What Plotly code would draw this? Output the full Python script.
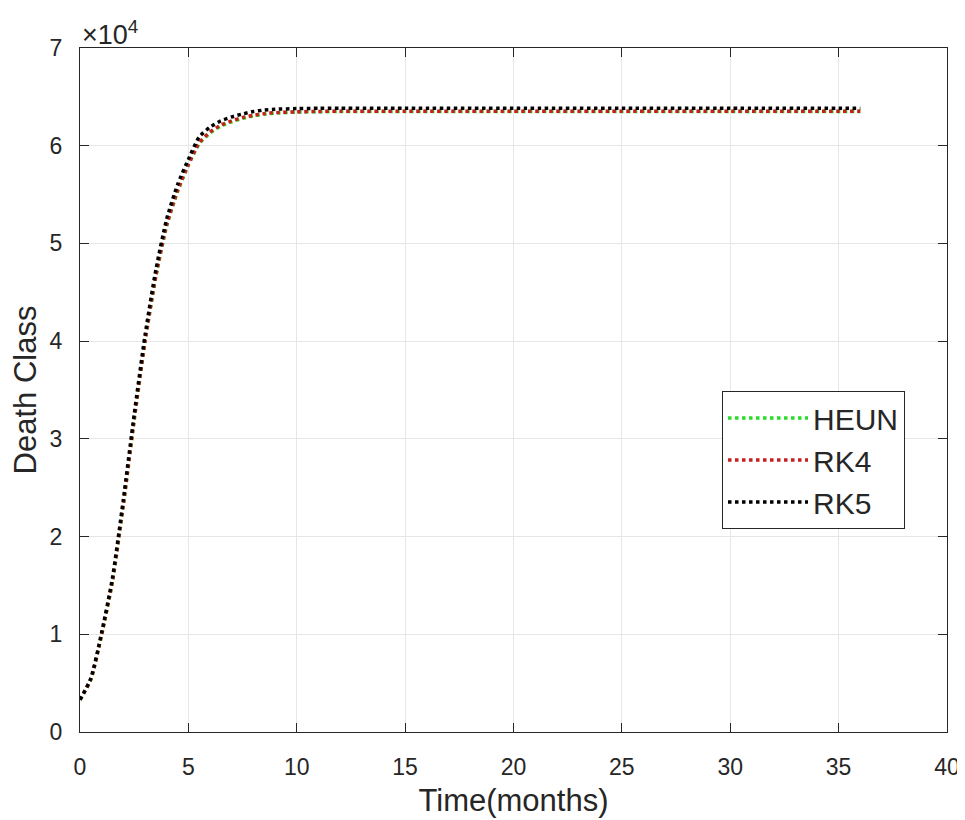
import plotly.graph_objects as go

# Time (months)
t = [0, 0.5, 1, 1.5, 2, 2.5, 3, 3.5, 4, 4.5, 5, 5.5, 6, 6.5, 7, 7.5, 8, 8.5, 9, 10, 11, 12, 15, 20, 25, 30, 36]

heun = [3300, 5350, 9950, 15400, 23200, 31900, 39900, 46600, 51800, 55300, 58000, 60200, 61300, 62000, 62450, 62800, 63050, 63220, 63330, 63440, 63480, 63500, 63500, 63500, 63500, 63500, 63500]
rk4 = [3300, 5400, 10000, 15500, 23300, 32000, 40000, 46700, 51900, 55400, 58100, 60300, 61400, 62100, 62550, 62880, 63120, 63280, 63380, 63470, 63510, 63530, 63530, 63530, 63530, 63530, 63530]
rk5 = [3300, 5500, 10200, 15800, 23800, 32500, 40600, 47300, 52500, 56000, 58600, 60900, 61900, 62550, 62950, 63250, 63500, 63650, 63730, 63800, 63830, 63840, 63840, 63840, 63840, 63840, 63840]

x_ticks = [0, 5, 10, 15, 20, 25, 30, 35, 40]
y_ticks = [0, 10000, 20000, 30000, 40000, 50000, 60000, 70000]
y_tick_text = ["0", "1", "2", "3", "4", "5", "6", "7"]

series = [("HEUN", heun, "rgb(40,220,40)"), ("RK4", rk4, "rgb(200,30,30)"), ("RK5", rk5, "rgb(0,0,0)")]

fig = go.Figure()
for name, vals, col in series:
    fig.add_trace(go.Scatter(x=t, y=vals, mode="lines", name=name,
                             line=dict(color=col, width=3.5, dash="dot", shape="spline", smoothing=0.6)))

axis_col = "#262626"
grid_col = "#e6e6e6"
font_fam = "Liberation Sans, Arial, Helvetica, sans-serif"

# page body has an 8px margin, so the figure is sized to fit inside the window
fig.update_layout(
    width=957, height=812,
    margin=dict(l=72, r=18, t=40, b=88),
    plot_bgcolor="white", paper_bgcolor="white",
    font=dict(family=font_fam, size=23, color=axis_col),
    showlegend=True,
    legend=dict(x=0.7405, y=0.4985, xanchor="left", yanchor="top",
                bordercolor=axis_col, borderwidth=1, bgcolor="white",
                font=dict(size=30), itemwidth=80, tracegroupgap=0),
)
fig.update_xaxes(range=[0, 40], tickvals=x_ticks, showgrid=True, gridcolor=grid_col,
                 showline=True, linecolor=axis_col, linewidth=1.3, mirror="ticks",
                 ticks="inside", ticklen=9, tickcolor=axis_col, zeroline=False,
                 ticklabelstandoff=14, automargin=False,
                 title=dict(text="Time(months)", font=dict(size=31), standoff=10))
fig.update_yaxes(range=[0, 70000], tickvals=y_ticks, ticktext=y_tick_text, showgrid=True,
                 gridcolor=grid_col, showline=True, linecolor=axis_col, linewidth=1.3,
                 mirror="ticks", ticks="inside", ticklen=9, tickcolor=axis_col, zeroline=False,
                 ticklabelstandoff=12, automargin=False,
                 title=dict(text="Death Class", font=dict(size=31), standoff=12))

fig.add_annotation(text="×10<sup>4</sup>", xref="paper", yref="paper", x=0, y=1,
                   xanchor="left", yanchor="bottom", showarrow=False,
                   font=dict(size=27, color=axis_col), xshift=0, yshift=-4)

fig.write_html("out.html")
